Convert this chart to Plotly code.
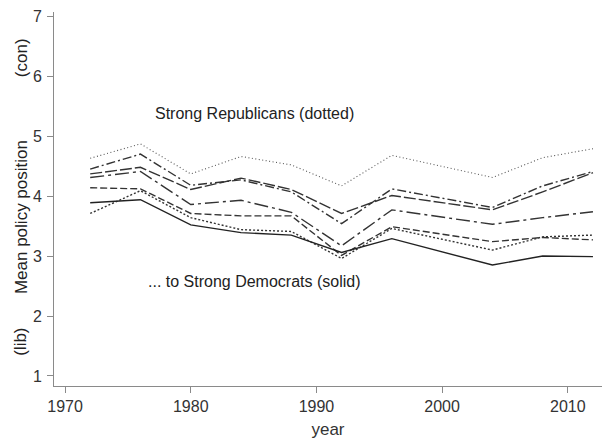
import plotly.graph_objects as go

# Survey years and mean policy position for each party-identification group
years = [1972, 1976, 1980, 1984, 1988, 1992, 1996, 2004, 2008, 2012]

strong_rep = [4.63, 4.87, 4.37, 4.66, 4.52, 4.17, 4.68, 4.31, 4.64, 4.79]
weak_rep = [4.45, 4.70, 4.18, 4.27, 4.07, 3.54, 4.12, 3.81, 4.17, 4.41]
lean_rep = [4.37, 4.48, 4.11, 4.30, 4.11, 3.71, 4.01, 3.77, 4.07, 4.39]
independent = [4.31, 4.41, 3.86, 3.93, 3.73, 3.17, 3.77, 3.53, 3.64, 3.74]
lean_dem = [4.14, 4.12, 3.71, 3.67, 3.67, 3.01, 3.49, 3.24, 3.31, 3.27]
weak_dem = [3.71, 4.09, 3.64, 3.44, 3.41, 2.96, 3.46, 3.10, 3.32, 3.35]
strong_dem = [3.89, 3.94, 3.52, 3.39, 3.35, 3.06, 3.29, 2.85, 3.00, 2.99]

x_ticks = [1970, 1980, 1990, 2000, 2010]
y_ticks = [1, 2, 3, 4, 5, 6, 7]

series = [
    ("Strong Republicans", strong_rep, "1px,2.5px", "#555555", 1.1),
    ("Weak Republicans", weak_rep, "9px,3px,2px,3px", "#333333", 1.4),
    ("Lean Republicans", lean_rep, "12px,3px", "#333333", 1.4),
    ("Independents", independent, "14px,4px,3px,4px", "#333333", 1.4),
    ("Lean Democrats", lean_dem, "7px,3px", "#333333", 1.4),
    ("Weak Democrats", weak_dem, "2px,2px", "#333333", 1.4),
    ("Strong Democrats", strong_dem, "solid", "#222222", 1.4),
]

fig = go.Figure()
for name, vals, dash, color, width in series:
    fig.add_trace(go.Scatter(
        x=years, y=vals, mode="lines", name=name,
        line=dict(color=color, width=width, dash=dash),
    ))

font_family = "Liberation Sans, Arial, sans-serif"
text_color = "#333333"

fig.update_layout(
    width=602, height=443,
    margin=dict(l=54, r=0, t=12, b=57),
    paper_bgcolor="white", plot_bgcolor="white",
    showlegend=False,
    font=dict(family=font_family, size=16, color=text_color),
    xaxis=dict(
        range=[1969.12, 2012.72], tickvals=x_ticks,
        showgrid=False, zeroline=False,
        showline=True, linecolor="#8a8a8a", linewidth=1,
        ticks="outside", ticklen=6, tickcolor="#8a8a8a",
        tickfont=dict(size=16, color=text_color),
        title=dict(text="year", font=dict(size=17, color=text_color), standoff=8),
    ),
    yaxis=dict(
        range=[0.833, 7.07], tickvals=y_ticks,
        showgrid=False, zeroline=False,
        showline=True, linecolor="#8a8a8a", linewidth=1,
        ticks="outside", ticklen=6, tickcolor="#8a8a8a",
        tickfont=dict(size=16, color=text_color),
        ticklabelstandoff=2,
    ),
)

# Rotated axis title split into its three parts
for txt, yv in [("(con)", 6.3), ("Mean policy position", 3.65), ("(lib)", 1.57)]:
    fig.add_annotation(
        text=txt, x=0, xref="paper", xshift=-33, xanchor="center",
        y=yv, yref="y", yanchor="middle", textangle=-90, showarrow=False,
        font=dict(size=17, color="#222222"),
    )

# In-plot labels for the extreme groups
fig.add_annotation(text="Strong Republicans (dotted)", x=1985.1, y=5.38,
                   xref="x", yref="y", showarrow=False,
                   font=dict(size=16, color="#222222"))
fig.add_annotation(text="... to Strong Democrats (solid)", x=1985.1, y=2.57,
                   xref="x", yref="y", showarrow=False,
                   font=dict(size=16, color="#222222"))

fig.write_html("out.html")
